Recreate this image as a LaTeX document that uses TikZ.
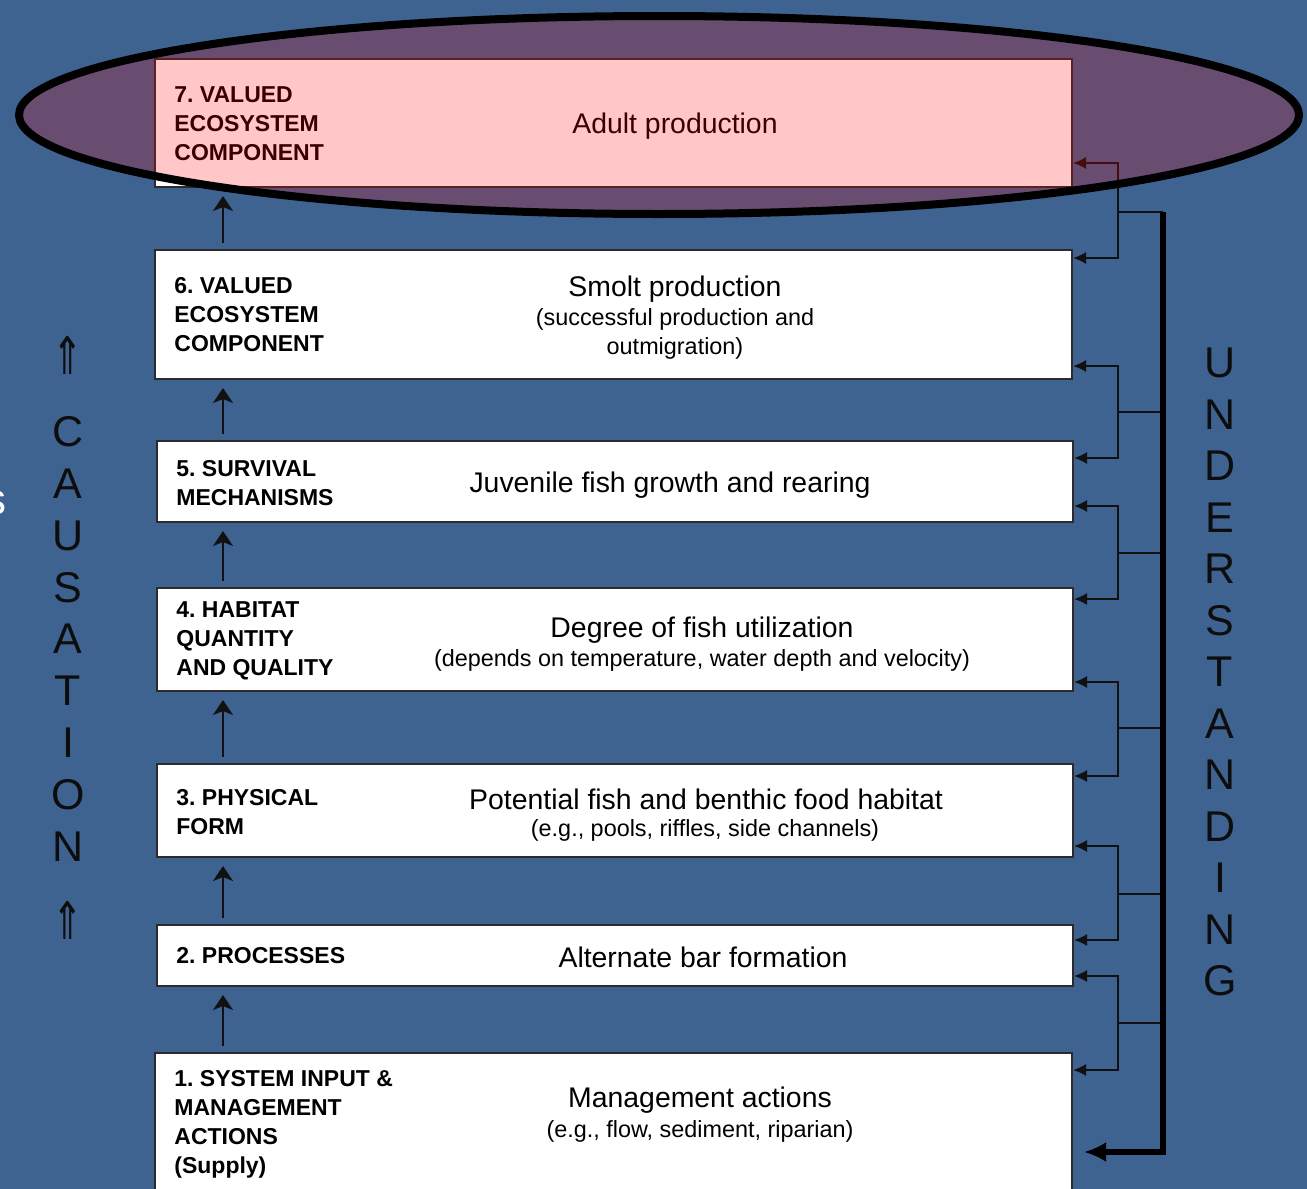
\documentclass[tikz,border=0pt]{standalone}
\usepackage{fontspec}
\setmainfont{Liberation Sans}
\newfontfamily\symfont{DejaVu Sans}
\frenchspacing
\usepackage{xcolor}
\definecolor{cBack}{HTML}{3E6391}
\definecolor{cFrame}{HTML}{2B2B2B}
\definecolor{cLine}{HTML}{111111}
\definecolor{cHalo}{HTML}{FF0000}
\definecolor{cSide}{HTML}{0D0D0D}
\usetikzlibrary{positioning,arrows.meta,fit,calc}
\tikzset{
  stage-box/.style={draw=cFrame,fill=white,line width=1pt,inner sep=0pt},
  stage-tag/.style={anchor=west,align=left,inner sep=0pt,
    font=\fontsize{11.5}{14.5}\selectfont\bfseries},
  stage-main/.style={font=\fontsize{14.2}{16}\selectfont,yshift=-1pt},
  stage-note/.style={align=center,font=\fontsize{11.7}{14.5}\selectfont,yshift=-0.5pt},
  arrow-up/.style={-{Stealth[length=7.5pt,width=10pt,inset=2pt]},
    line width=1.2pt,draw=cLine},
  arrow-feed/.style={-{Latex[length=6.5pt,width=6pt]},line width=0.9pt,draw=cLine},
  feed-line/.style={line width=0.9pt,draw=cLine},
  arrow-trunk/.style={-{Latex[length=11pt,width=10pt]},line width=2.6pt,draw=black},
  side-letter/.style={font=\fontsize{21.5}{22}\selectfont,text=cSide,inner sep=0pt},
  side-arrow/.style={font=\symfont\fontsize{26}{26}\selectfont,text=cSide,
    inner sep=0pt,xscale=0.7},
  halo/.style={line width=4pt,draw=black,fill=cHalo,fill opacity=0.22},
}

\begin{document}
\begin{tikzpicture}[x=0.5pt,y=-0.5pt]
  \path[use as bounding box,fill=cBack] (0,0) rectangle (1307,1189);
  % stage boxes, 7 at the top down to 1
  \foreach \n/\xa/\ya/\xb/\yb in {7/155/59/1072/187, 6/155/250/1072/379,
      5/157/441/1073/522, 4/157/588/1073/691, 3/157/764/1073/857,
      2/157/925/1073/986, 1/155/1053/1072/1215}
    \node[stage-box,fit={(\xa,\ya) (\xb,\yb)}] (b\n) {};

  \node[stage-tag] (t7) at (174,124) {7. VALUED\\ECOSYSTEM\\COMPONENT};
  \node[stage-main] (m7) at (675,124) {Adult production};

  \node[stage-tag] (t6) at (174,315) {6. VALUED\\ECOSYSTEM\\COMPONENT};
  \node[stage-main] (m6) at (675,287) {Smolt production};
  \node[stage-note] (n6) at (675,333) {(successful production and\\outmigration)};

  \node[stage-tag] (t5) at (176,483) {5. SURVIVAL\\MECHANISMS};
  \node[stage-main] (m5) at (670,483) {Juvenile fish growth and rearing};

  \node[stage-tag] (t4) at (176,641) {4. HABITAT\\QUANTITY\\AND QUALITY};
  \node[stage-main] (m4) at (702,628) {Degree of fish utilization};
  \node[stage-note] (n4) at (702,659) {(depends on temperature, water depth and velocity)};

  \node[stage-tag] (t3) at (176,812) {3. PHYSICAL\\FORM};
  \node[stage-main] (m3) at (706,797) {Potential fish and benthic food habitat};
  \node[stage-note] (n3) at (705,829) {(e.g., pools, riffles, side channels)};

  \node[stage-tag] (t2) at (176,956) {2. PROCESSES};
  \node[stage-main] (m2) at (703,955) {Alternate bar formation};

  \node[stage-tag] (t1) at (174,1124) {1. SYSTEM INPUT \&\\MANAGEMENT\\ACTIONS\\(Supply)};
  \node[stage-main] (m1) at (700,1098) {Management actions};
  \node[stage-note] (n1) at (700,1130) {(e.g., flow, sediment, riparian)};

  % causation arrows
  \coordinate (ax) at (223,0);
  \foreach \a/\b in {1/2,2/3,3/4,4/5,5/6,6/7}
    \draw[arrow-up,shorten <=3pt,shorten >=4pt] (b\a.north -| ax) -- (b\b.south -| ax);

  % understanding feedback
  \coordinate (tr-top) at (1163,212);
  \coordinate (tr-bot) at (1163,1152);
  \foreach \u/\l/\yu/\yl/\ym in {7/6/163/258/212, 6/5/366/458/412,
      5/4/506/599/553, 4/3/682/776/728, 3/2/846/940/894, 2/1/976/1070/1023} {
    \coordinate (j\u) at (1118,\ym);
    \draw[feed-line] (tr-top |- j\u) -- (j\u);
    \draw[arrow-feed] (j\u) |- (b\u.east |- 0,\yu);
    \draw[arrow-feed] (j\u) |- (b\l.east |- 0,\yl);
  }
  \draw[arrow-trunk,shorten >=5.5pt] (tr-top) -- (tr-bot) -- (b1.east |- tr-bot);

  % side words
  \foreach \c [count=\i from 0] in {U,N,D,E,R,S,T,A,N,D,I,N,G}
    \node[side-letter] (u\i) at (1220,{363+51.5*\i}) {\c};
  \foreach \c [count=\i from 0] in {C,A,U,S,A,T,I,O,N}
    \node[side-letter] (c\i) at (68,{432+51.8*\i}) {\c};
  \node[side-arrow] (c-up1) at (68,355) {⇑};
  \node[side-arrow] (c-up2) at (68,920) {⇑};
  \node[font=\fontsize{22}{22}\selectfont,text=white,inner sep=0pt] (s-cut) at (-5,503) {s};

  % highlight round stage 7
  \path[halo] (659,115) ellipse [x radius=320pt,y radius=49.5pt];
\end{tikzpicture}
\end{document}
